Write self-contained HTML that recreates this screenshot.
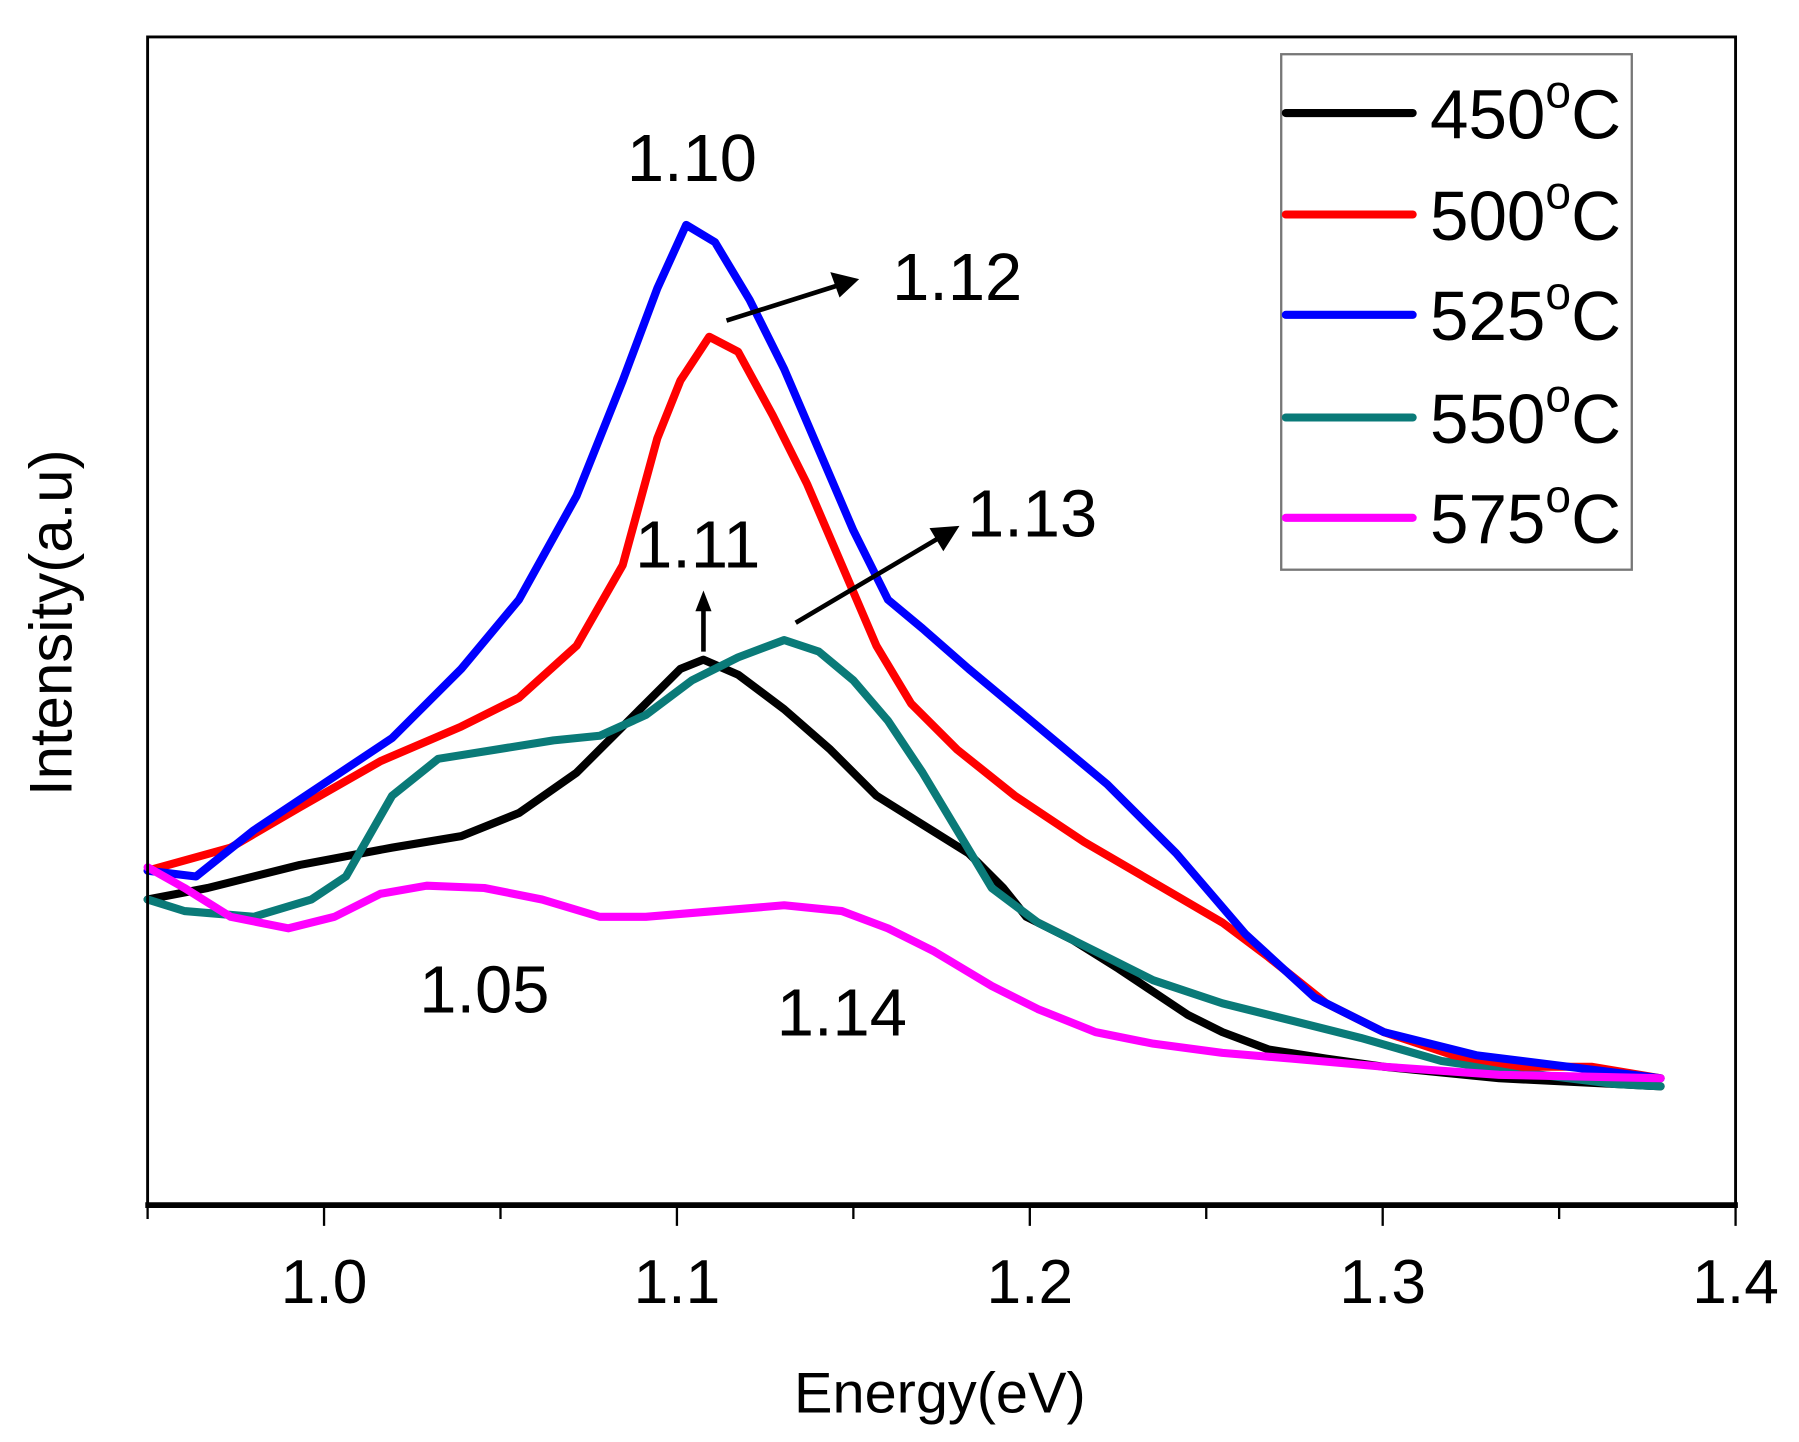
<!DOCTYPE html>
<html><head><meta charset="utf-8"><style>html,body{margin:0;padding:0;background:#fff}svg{display:block}</style></head>
<body>
<svg width="1799" height="1442" viewBox="0 0 1560 1250.4" xmlns="http://www.w3.org/2000/svg" font-family="Liberation Sans, Arial, sans-serif">
<rect width="1560" height="1251" fill="#fff"/>
<g fill="none" stroke-width="7" stroke-linejoin="round" stroke-linecap="round">
<polyline stroke="#000" points="128,780 180,770 260,750 340,735 400,725 450,705 500,670 550,620 590,580 610,572 640,585 680,615 720,650 760,690 800,715 840,740 870,770 890,795 930,815 970,840 1000,860 1030,880 1060,895 1100,910 1150,918 1200,925 1300,935 1400,940 1440,942"/>
<polyline stroke="#0a7a78" points="128,780 160,790 220,795 270,780 300,760 340,690 380,658 430,650 480,642 520,638 560,620 600,590 640,570 680,555 710,565 740,590 770,625 800,670 830,720 860,770 900,800 950,825 1000,850 1060,870 1120,885 1180,900 1250,920 1320,930 1400,940 1440,942"/>
<polyline stroke="#ff0000" points="128,755 200,735 260,700 330,660 400,630 450,605 500,560 540,490 570,380 590,330 615,292 640,305 670,360 700,420 730,490 760,560 790,610 830,650 880,690 940,730 1000,765 1060,800 1100,830 1150,870 1200,895 1260,915 1320,925 1380,925 1440,935"/>
<polyline stroke="#0000ff" points="128,755 170,760 220,720 280,680 340,640 400,580 450,520 500,430 540,330 570,250 595,195 620,210 650,260 680,320 710,390 740,460 770,520 800,545 840,580 900,630 960,680 1020,740 1080,810 1140,865 1200,895 1280,915 1360,925 1440,935"/>
<polyline stroke="#ff00ff" points="128,752 160,770 200,795 250,805 290,795 330,775 370,768 420,770 470,780 520,795 560,795 620,790 680,785 730,790 770,805 810,825 860,855 900,875 950,895 1000,905 1060,913 1120,918 1200,925 1300,932 1440,935"/>
</g>
<g stroke="#000" fill="none">
<polyline points="128,1045 128,32 1505,32 1505,1045" stroke-width="2.5"/>
<line x1="126" y1="1045" x2="1507" y2="1045" stroke-width="5"/>
<path d="M128 1045v12M281 1045v18M434 1045v12M587 1045v18M740 1045v12M893 1045v18M1046 1045v12M1199 1045v18M1352 1045v12M1505 1045v18" stroke-width="2"/>
</g>
<g font-size="54" text-anchor="middle" fill="#000">
<text x="281" y="1130">1.0</text><text x="587" y="1130">1.1</text><text x="893" y="1130">1.2</text><text x="1199" y="1130">1.3</text><text x="1505" y="1130">1.4</text>
<text x="815" y="1225" font-size="50">Energy(eV)</text>
<text transform="translate(62,540) rotate(-90)" font-size="52">Intensity(a.u)</text>
</g>
<g font-size="58" fill="#000" text-anchor="middle">
<text x="600" y="157">1.10</text><text x="830" y="260">1.12</text><text x="605" y="492">1.11</text><text x="895" y="465">1.13</text><text x="420" y="878">1.05</text><text x="730" y="898">1.14</text>
</g>
<g stroke="#000" stroke-width="4" fill="#000">
<line x1="630" y1="278" x2="725" y2="248"/><polygon points="745,242 720,236 728,258" stroke="none"/>
<line x1="610" y1="565" x2="610" y2="528"/><polygon points="610,512 603,530 617,530" stroke="none"/>
<line x1="690" y1="540" x2="815" y2="466"/><polygon points="832,456 806,458 818,478" stroke="none"/>
</g>
<rect x="1111" y="47" width="304" height="447" fill="#fff" stroke="#777" stroke-width="2"/>
<g stroke-width="7" stroke-linecap="round">
<line x1="1115" y1="98" x2="1225" y2="98" stroke="#000"/>
<line x1="1115" y1="186" x2="1225" y2="186" stroke="#ff0000"/>
<line x1="1115" y1="273" x2="1225" y2="273" stroke="#0000ff"/>
<line x1="1115" y1="362" x2="1225" y2="362" stroke="#0a7a78"/>
<line x1="1115" y1="449" x2="1225" y2="449" stroke="#ff00ff"/>
</g>
<g font-size="60" fill="#000">
<text x="1240" y="120">450<tspan font-size="40" dy="-27">o</tspan><tspan dy="27">C</tspan></text>
<text x="1240" y="208">500<tspan font-size="40" dy="-27">o</tspan><tspan dy="27">C</tspan></text>
<text x="1240" y="295">525<tspan font-size="40" dy="-27">o</tspan><tspan dy="27">C</tspan></text>
<text x="1240" y="384">550<tspan font-size="40" dy="-27">o</tspan><tspan dy="27">C</tspan></text>
<text x="1240" y="471">575<tspan font-size="40" dy="-27">o</tspan><tspan dy="27">C</tspan></text>
</g>
</svg>
</body></html>
